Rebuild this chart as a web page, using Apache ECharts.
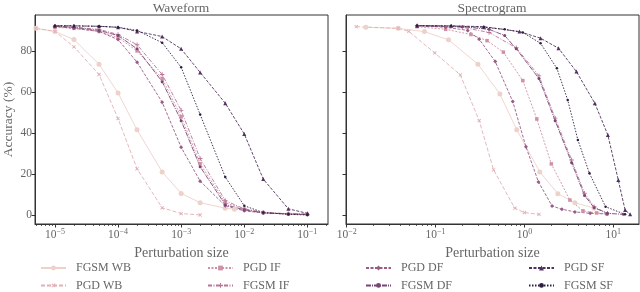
<!DOCTYPE html>
<html><head><meta charset="utf-8">
<script src="https://cdn.jsdelivr.net/npm/echarts@6/dist/echarts.min.js"></script>
<style>html,body{margin:0;padding:0;background:#fff}#c{width:640px;height:292px}</style>
</head><body><div id="c"></div>
<script>
// ---------- data ----------
const seriesNames = ['FGSM WB','PGD WB','PGD IF','FGSM IF','PGD DF','FGSM DF','PGD SF','FGSM SF'];
const yTicks = [0,20,40,60,80];
const waveTicks = [1e-5,1e-4,1e-3,1e-2,1e-1];
const specTicks = [1e-2,1e-1,1,10];

// Waveform panel
const waveWbX = [5e-6,1e-5,2e-5,5e-5,1e-4,2e-4,5e-4,1e-3,2e-3,5e-3,7e-3];
const waveFgsmWB = [91,89.5,85.5,73.5,59.5,41.5,21,10.5,6,3.3,2.8];
const wavePgdWbX = [5e-6,1e-5,2e-5,5e-5,1e-4,2e-4,5e-4,1e-3,2e-3];
const wavePgdWB = [91,89.5,82,68.5,47,22.5,3.5,0.7,0];
const waveX = [1e-5,2e-5,5e-5,1e-4,2e-4,5e-4,1e-3,2e-3,5e-3,1e-2,2e-2,5e-2,1e-1];
const wavePgdIF  = [91.5,91,89.5,86.5,80,66.5,48,25,6,2.8,1.2,0.5,0.3];
const waveFgsmIF = [92,91.5,90.5,88,83,68.5,51,27.5,7,3,1.3,0.6,0.3];
const wavePgdDF  = [92,91,89.5,85.5,74.5,55,33,16.5,4.5,2,1,0.5,0.3];
const waveFgsmDF = [92,91.5,90,87.5,81,65,46,23.5,5,2.5,1,0.5,0.3];
const wavePgdSF  = [92.3,92.2,92,91.5,89.5,87,81,69.5,54.5,39.5,17.5,3,0.8];
const waveFgsmSF = [92.3,92.2,92,91.5,90,84,72,49,18.5,4.5,1.2,0.3,0];

// Spectrogram panel
const specFgsmWbX = [0.0164,0.038,0.075,0.14,0.30,0.53,0.82,1.49,2.38,3.7,6.1];
const specFgsmWB  = [91.5,91,89.4,85.4,73.5,59,41.5,21,10.4,6,3.3];
const specPgdWbX  = [0.0128,0.038,0.05,0.098,0.19,0.31,0.45,0.78,1.0,1.46];
const specPgdWB   = [91.8,91,89.5,79,68.3,46,22,3.3,1.2,0.3];
const specPgdIfX  = [0.062,0.13,0.25,0.38,0.58,0.96,1.38,2.01,3.25,4.56,6.5,8.5];
const specPgdIF   = [91.8,90.5,88,85,79.4,65.5,46.8,24.9,7.3,2,1,0.5];
const specFgsmIfX = [0.062,0.2,0.4,0.81,1.46,2.22,3.4,4.75,6.1,8.6];
const specFgsmIF  = [92.3,91.5,89,81.5,67.8,47.2,26.8,10.6,4,0.8];
const specPgdDfX  = [0.062,0.13,0.23,0.31,0.47,0.74,1.04,1.44,2.05,2.64,3.7,5.5,8.5];
const specPgdDF   = [92.3,91.5,90,85.7,74.8,55.3,33.3,16.1,4.4,2.8,1.5,0.8,0.5];
const specFgsmDfX = [0.062,0.2,0.4,0.6,0.81,1.46,2.22,3.4,4.75,6.1,8.6,13];
const specFgsmDF  = [92.3,91.8,90.5,87.5,81,66.5,46,25.5,9.5,3.5,0.8,0.3];
const specPgdSfX  = [0.062,0.15,0.35,0.88,1.52,2.42,3.85,6.2,8.7,11.4,13.6,15.5];
const specPgdSF   = [92.3,92.2,91.8,89.4,86.2,81.3,69.9,54.5,39,17,2.4,0.3];
const specFgsmSfX = [0.062,0.15,0.35,0.6,0.96,1.52,2.32,3.07,4.0,5.4,8.2,13.6];
const specFgsmSF  = [92.3,92.2,91.5,90.5,89,83.7,71.5,56.1,36.6,20.3,4,0.3];

// ---------- style ----------
const colors = ['#edd1cb','#e1b0b4','#cf91a3','#b87496','#9a5b88','#774576','#51315e','#2d1e3e'];
const plusPath = 'path://M4,0h2v4h4v2h-4v4h-2v-4h-4v-2h4z';
const styles = [
  {type:'solid', symbol:'circle', size:5, rot:0},
  {type:[4,2], symbol:plusPath, size:4.5, rot:45},
  {type:[2,1.5], symbol:'rect', size:3.5, rot:0},
  {type:[4,1.5,1,1.5], symbol:plusPath, size:4.5, rot:0},
  {type:[3,1.5], symbol:'diamond', size:4, rot:0},
  {type:[5,1,1,1], symbol:'circle', size:3, rot:0},
  {type:[3,1.5], symbol:'triangle', size:4, rot:0},
  {type:[1.5,1.5], symbol:'circle', size:2.5, rot:0}
];
const FONT = '"Liberation Serif", "DejaVu Serif", serif';
const TXT = '#666';
const Y_MIN = -4.4, Y_MAX = 97.5;

const zip = (xs, ys) => xs.map((x,i)=>[x, ys[i]]);
const waveData = [zip(waveWbX,waveFgsmWB), zip(wavePgdWbX,wavePgdWB), zip(waveX,wavePgdIF), zip(waveX,waveFgsmIF),
                  zip(waveX,wavePgdDF), zip(waveX,waveFgsmDF), zip(waveX,wavePgdSF), zip(waveX,waveFgsmSF)];
const specData = [zip(specFgsmWbX,specFgsmWB), zip(specPgdWbX,specPgdWB), zip(specPgdIfX,specPgdIF), zip(specFgsmIfX,specFgsmIF),
                  zip(specPgdDfX,specPgdDF), zip(specFgsmDfX,specFgsmDF), zip(specPgdSfX,specPgdSF), zip(specFgsmSfX,specFgsmSF)];

const xRanges = [[Math.pow(10,-5.316), Math.pow(10,-0.673)], [Math.pow(10,-2.008), Math.pow(10,1.29)]];
function minors(e0, e1, rng){ const out=[]; for(let e=e0;e<=e1;e++){ for(let k=2;k<=9;k++){ const v=k*Math.pow(10,e); if(v>rng[0]&&v<rng[1]) out.push([v, Y_MIN]); } } return out; }
function supLabel(v){ const e = Math.round(Math.log10(v)); return '{b|10}{s|' + String(e).replace('-','\u2212') + '}'; }

const series = [];
seriesNames.forEach((n,i)=>{
  [waveData, specData].forEach((d,g)=>{
    series.push({
      name:n, type:'line', xAxisIndex:g, yAxisIndex:g, data:d[i],
      symbol:styles[i].symbol, symbolSize:styles[i].size, symbolRotate:styles[i].rot, showSymbol:true,
      lineStyle:{color:colors[i], width:0.9, type:styles[i].type},
      itemStyle:{color:colors[i]}, animation:false, z: 2
    });
  });
});
// minor log ticks (matplotlib style) placed through the axis scale
const minorData = [minors(-6,-1,xRanges[0]), minors(-3,1,xRanges[1])];
[0,1].forEach(g=>{
  series.push({type:'custom', xAxisIndex:g, yAxisIndex:g, data:minorData[g], clip:false, silent:true, z:5,
    renderItem:(params, api)=>{
      const p = api.coord([api.value(0), api.value(1)]);
      return {type:'line', shape:{x1:Math.round(p[0])+0.5, y1:p[1], x2:Math.round(p[0])+0.5, y2:p[1]+2},
              style:{stroke:'#333', lineWidth:0.8}};
    }});
});

const grids = [{left:34, top:15, width:294, height:209}, {left:346, top:15, width:293, height:209}];
const majors = [waveTicks, specTicks];

const xAxes = [0,1].map(g=>({type:'log', logBase:10, gridIndex:g, min:xRanges[g][0], max:xRanges[g][1],
    name:'Perturbation size', nameLocation:'middle', nameGap:21,
    nameTextStyle:{fontFamily:FONT, fontSize:14, color:TXT},
    axisLine:{show:true, onZero:false, lineStyle:{color:'#333', width:1}},
    axisTick:{show:true, inside:false, length:3.5, customValues:majors[g], lineStyle:{color:'#333'}},
    axisLabel:{show:true, customValues:majors[g], margin:4, formatter:supLabel,
      rich:{b:{fontFamily:FONT, fontSize:11.5, color:TXT}, s:{fontFamily:FONT, fontSize:8, color:TXT, padding:[0,0,6,0]}}},
    splitLine:{show:false}, minorTick:{show:false}}));

const yAxes = [0,1].map(g=>({type:'value', gridIndex:g, min:Y_MIN, max:Y_MAX,
  name: g===0 ? 'Accuracy (%)' : '', nameLocation:'middle', nameGap:20, nameRotate:90,
  nameTextStyle:{fontFamily:FONT, fontSize:13.5, color:TXT},
  axisLine:{show:true, onZero:false, lineStyle:{color:'#333', width:1}},
  axisTick:{show:true, length:3.5, customValues:yTicks, lineStyle:{color:'#333'}},
  axisLabel:{show:g===0, customValues:yTicks, margin:3, fontFamily:FONT, fontSize:11.5, color:TXT},
  splitLine:{show:false}}));

const legendCols = [[40,['FGSM WB','PGD WB']],[207,['PGD IF','FGSM IF']],[365,['PGD DF','FGSM DF']],[528,['PGD SF','FGSM SF']]];
const legends = legendCols.map(([l,d])=>({left:l, top:262, orient:'vertical', data:d, itemWidth:25, itemHeight:6, itemGap:5.4,
  padding:0, textStyle:{fontFamily:FONT, fontSize:12, color:TXT, lineHeight:12, padding:[0,0,0,5]}, selectedMode:false}));

const chart = echarts.init(document.getElementById('c'), null, {renderer:'canvas'});
chart.setOption({
  animation:false,
  backgroundColor:'#fff',
  title:[
    {text:'Waveform', left:181, top:1, padding:0, textAlign:'center', textStyle:{fontFamily:FONT, fontSize:13.5, fontWeight:'normal', color:TXT}},
    {text:'Spectrogram', left:492, top:1, padding:0, textAlign:'center', textStyle:{fontFamily:FONT, fontSize:13.5, fontWeight:'normal', color:TXT}}
  ],
  grid: grids.map(g=>Object.assign({show:true, borderColor:'#333', borderWidth:1, backgroundColor:'transparent'}, g)),
  xAxis: xAxes,
  yAxis: yAxes,
  legend: legends,
  series: series
});
</script></body></html>
